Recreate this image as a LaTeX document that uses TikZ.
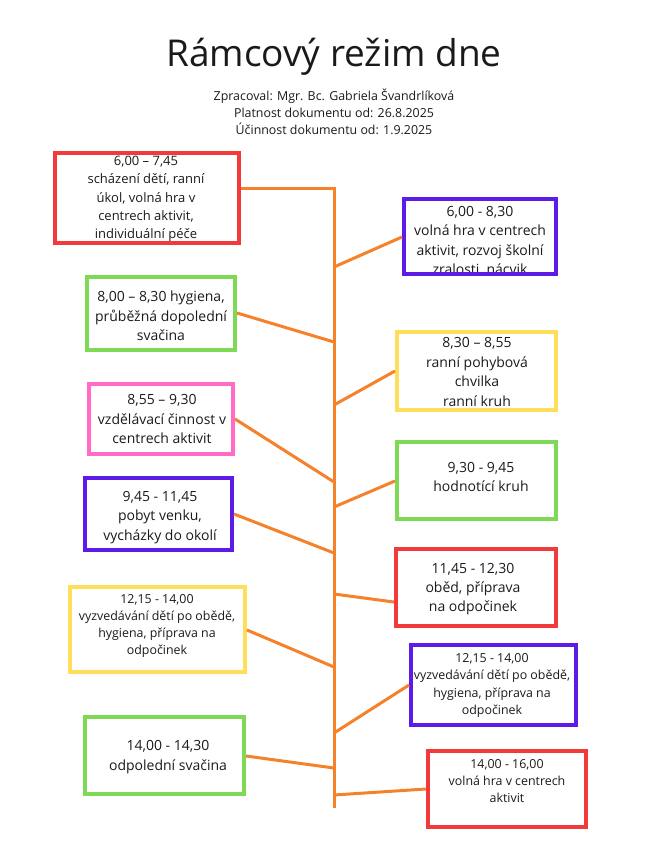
\documentclass[tikz,border=0pt]{standalone}
\usepackage{fontspec}
\setmainfont{Open Sans}
\definecolor{cred}{HTML}{F23A3A}
\definecolor{cpurple}{HTML}{5E1AE6}
\definecolor{cgreen}{HTML}{7ED957}
\definecolor{cyellow}{HTML}{FFDE59}
\definecolor{cpink}{HTML}{FF6BC6}
\definecolor{corange}{HTML}{F5822A}
\definecolor{ctext}{HTML}{1A1A1A}
\begin{document}
\begin{tikzpicture}[x=1pt,y=-1pt,
  bx/.style={draw,line width=4pt,inner sep=0pt},
  txt/.style={align=center,inner sep=0pt,text=ctext},
  big/.style={font=\fontsize{14}{19.4}\selectfont},
  mid/.style={font=\fontsize{13}{18.3}\selectfont},
  sml/.style={font=\fontsize{12.4}{17.2}\selectfont},
  conn/.style={draw=corange,line width=3pt}]
\useasboundingbox (0,0) rectangle (668,853);

% title
\node[txt,anchor=base,font=\fontsize{37}{44}\selectfont] (title) at (334,67) {Rámcový režim dne};
\node[txt,anchor=base,font=\fontsize{12.4}{16}\selectfont] (sub1) at (334,101) {Zpracoval: Mgr. Bc. Gabriela Švandrlíková};
\node[txt,anchor=base,font=\fontsize{12.4}{16}\selectfont] (sub2) at (334,118) {Platnost dokumentu od: 26.8.2025};
\node[txt,anchor=base,font=\fontsize{12.4}{16}\selectfont] (sub3) at (334,135) {Účinnost dokumentu od: 1.9.2025};

% trunk and connectors
\coordinate (ttop) at (334,188);
\coordinate (tbot) at (334,808);
\coordinate (j2) at (334,267);
\coordinate (j3) at (334,342);
\coordinate (j4) at (334,405);
\coordinate (j5) at (334,482);
\coordinate (j6) at (334,507);
\coordinate (j7) at (334,553);
\coordinate (j8) at (334,594);
\coordinate (j9) at (334,667);
\coordinate (j10) at (334,733);
\coordinate (j11) at (334,768);
\coordinate (j12) at (334,795);

% texts
\node[txt,mid] (t1) at (146,199) {6,00 – 7,45\\scházení dětí, ranní\\úkol, volná hra v\\centrech aktivit,\\individuální péče};
\begin{scope}
\clip (402,197) rectangle (558,274);
\node[txt,big] (t2) at (480,241.5) {6,00 - 8,30\\volná hra v centrech\\aktivit, rozvoj školní\\zralosti, nácvik};
\end{scope}
\node[txt,big] (t3) at (161,316) {8,00 – 8,30 hygiena,\\průběžná dopolední\\svačina};
\node[txt,big] (t4) at (477,372) {8,30 – 8,55\\ranní pohybová\\chvilka\\ranní kruh};
\node[txt,big] (t5) at (162,419) {8,55 – 9,30\\vzdělávací činnost v\\centrech aktivit};
\node[txt,big] (t6) at (481,477) {9,30 - 9,45\\hodnotící kruh};
\node[txt,big] (t7) at (160,517.5) {9,45 - 11,45\\pobyt venku,\\vycházky do okolí};
\node[txt,big] (t8) at (473,589) {11,45 - 12,30\\oběd, příprava\\na odpočinek};
\node[txt,sml] (t9) at (157,626) {12,15 - 14,00\\vyzvedávání dětí po obědě,\\hygiena, příprava na\\odpočinek};
\node[txt,sml] (t10) at (492,685.5) {12,15 - 14,00\\vyzvedávání dětí po obědě,\\hygiena, příprava na\\odpočinek};
\node[txt,big] (t11) at (168,757) {14,00 - 14,30\\odpolední svačina};
\node[txt,sml] (t12) at (507,781) {14,00 - 16,00\\volná hra v centrech\\aktivit};

% boxes
\node[bx,draw=cred,minimum width=184pt,minimum height=90pt] (b1) at (147,198) {};
\node[bx,draw=cpurple,minimum width=152pt,minimum height=75pt] (b2) at (480,236.5) {};
\node[bx,draw=cgreen,minimum width=148pt,minimum height=73pt] (b3) at (161,313.5) {};
\node[bx,draw=cyellow,minimum width=159pt,minimum height=78pt] (b4) at (476.5,371) {};
\node[bx,draw=cpink,minimum width=144pt,minimum height=70pt] (b5) at (161,419) {};
\node[bx,draw=cgreen,minimum width=159pt,minimum height=77pt] (b6) at (476.5,480.5) {};
\node[bx,draw=cpurple,minimum width=147pt,minimum height=72pt] (b7) at (158.5,514) {};
\node[bx,draw=cred,minimum width=160pt,minimum height=77pt] (b8) at (476,587.5) {};
\node[bx,draw=cyellow,minimum width=175pt,minimum height=85pt] (b9) at (157.5,629.5) {};
\node[bx,draw=cpurple,minimum width=165pt,minimum height=80pt] (b10) at (493.5,685) {};
\node[bx,draw=cgreen,minimum width=159pt,minimum height=77pt] (b11) at (164.5,755.5) {};
\node[bx,draw=cred,minimum width=158pt,minimum height=76pt] (b12) at (507,789) {};

\draw[conn] (b1.east |- ttop) -- (ttop) -- (tbot);
\draw[conn] (b2.west |- 0,237) -- (j2);
\draw[conn] (b3.east |- 0,313) -- (j3);
\draw[conn] (b4.west |- 0,371) -- (j4);
\draw[conn] (b5.east |- 0,419) -- (j5);
\draw[conn] (b6.west |- 0,481) -- (j6);
\draw[conn] (b7.east |- 0,514) -- (j7);
\draw[conn] (b8.west |- 0,602) -- (j8);
\draw[conn] (b9.east |- 0,630) -- (j9);
\draw[conn] (b10.west |- 0,685) -- (j10);
\draw[conn] (b11.east |- 0,756) -- (j11);
\draw[conn] (b12.west |- 0,789) -- (j12);
\end{tikzpicture}
\end{document}
